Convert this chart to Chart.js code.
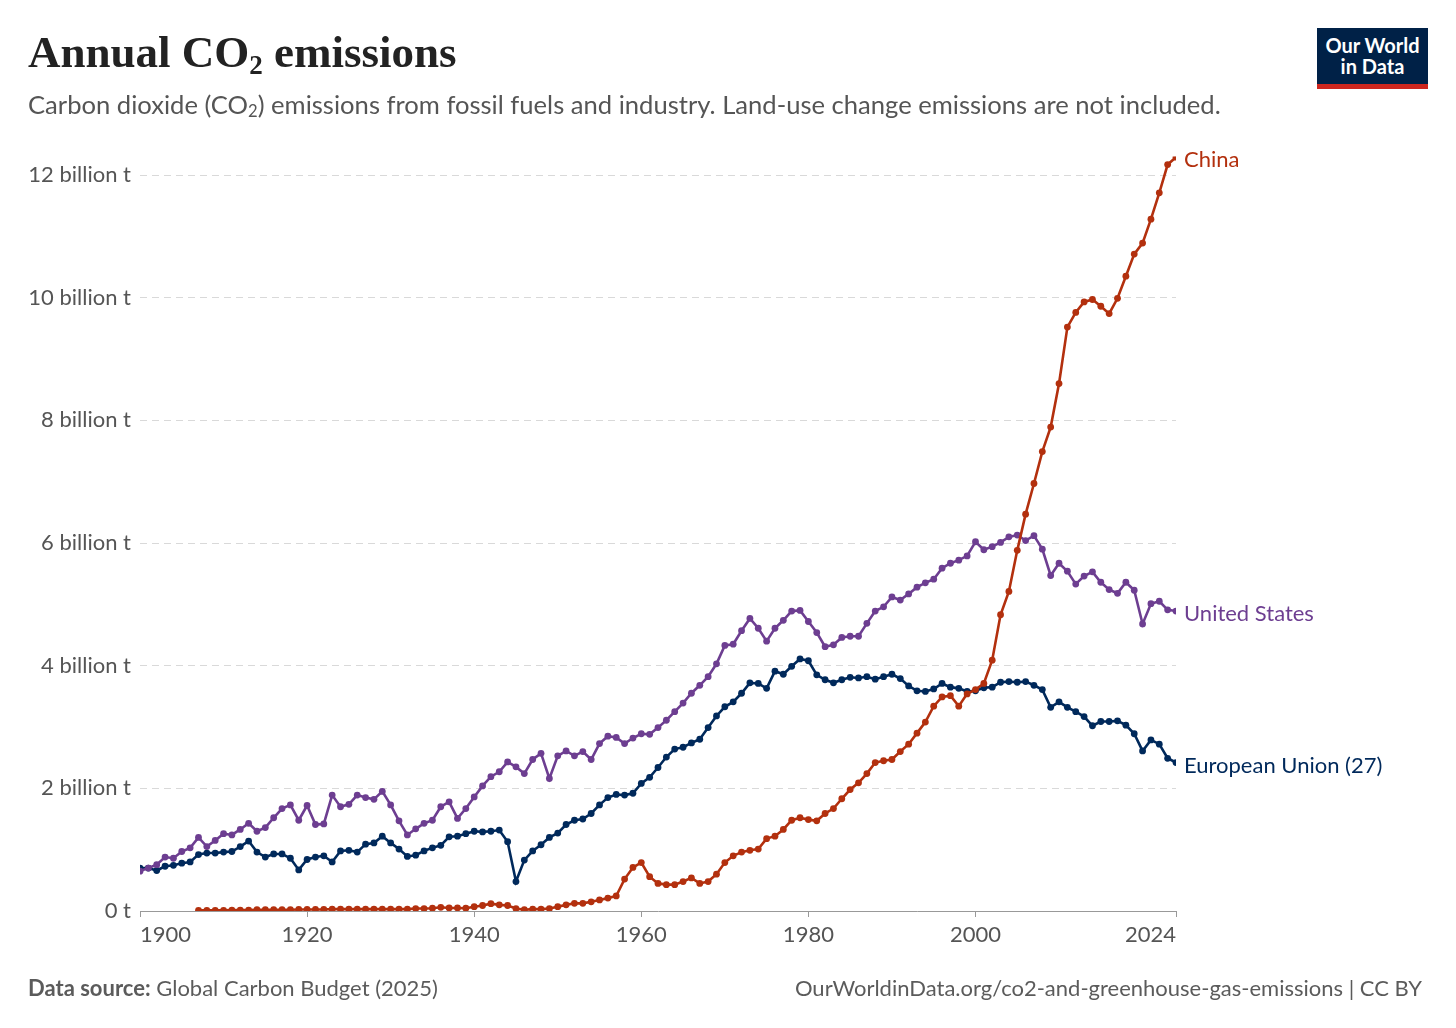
<!DOCTYPE html>
<html>
<head>
<meta charset="utf-8">
<script src="https://cdn.jsdelivr.net/npm/chart.js@4.4.1/dist/chart.umd.min.js"></script>
<style>
  body { margin: 0; background: #fff; width: 1456px; height: 1028px; overflow: hidden; font-family: Lato, sans-serif; }
  #wrap { position: absolute; left: 0; top: 0; width: 1456px; height: 1028px; }
  .txt { position: absolute; white-space: nowrap; }
  #title { left: 28px; top: 26px; font-family: "Liberation Serif", serif; font-weight: bold; font-size: 45px; color: #222; }
  #title sub { font-size: 0.6em; vertical-align: -0.25em; }
  #subtitle { left: 28px; top: 89px; font-size: 25.6px; color: #555; }
  #subtitle sub { font-size: 0.65em; vertical-align: -0.2em; }
  #logo { position: absolute; left: 1317px; top: 28px; width: 111px; background: #002147; border-bottom: 5px solid #ce261e;
          color: #fff; font-weight: bold; font-size: 20px; line-height: 21px; text-align: center; padding-top: 7px; height: 49px; }
  #source { left: 28px; top: 974px; font-size: 22px; color: #5b5b5b; }
  #source b { color: #5b5b5b; }
  #url { right: 34px; top: 974px; font-size: 22px; color: #5b5b5b; }
</style>
</head>
<body>
<div id="wrap"><canvas id="chart"></canvas></div>
<div class="txt" id="title">Annual CO<sub>2</sub> emissions</div>
<div class="txt" id="subtitle">Carbon dioxide (CO<sub>2</sub>) emissions from fossil fuels and industry. Land-use change emissions are not included.</div>
<div id="logo">Our World<br>in Data</div>
<div class="txt" id="source"><b>Data source:</b> Global Carbon Budget (2025)</div>
<div class="txt" id="url">OurWorldinData.org/co2-and-greenhouse-gas-emissions | CC BY</div>
<script>
// billion tonnes CO2 per year
const firstYear = 1900;
const lastYear = 2024;
const chinaFirstYear = 1907;
const xTickYears = [1900, 1920, 1940, 1960, 1980, 2000, 2024];
const yTickValues = [0, 2, 4, 6, 8, 10, 12];

const usValues = [
  0.65, 0.70, 0.755, 0.88, 0.86, 0.97, 1.03, 1.20, 1.05, 1.15,
  1.26, 1.24, 1.33, 1.43, 1.30, 1.36, 1.52, 1.67, 1.73, 1.48,
  1.72, 1.41, 1.42, 1.89, 1.70, 1.74, 1.89, 1.85, 1.82, 1.95,
  1.73, 1.47, 1.24, 1.34, 1.43, 1.48, 1.70, 1.78, 1.51, 1.67,
  1.86, 2.04, 2.19, 2.27, 2.43, 2.35, 2.24, 2.47, 2.57, 2.16,
  2.53, 2.61, 2.53, 2.60, 2.47, 2.73, 2.85, 2.83, 2.73, 2.82,
  2.89, 2.88, 2.99, 3.11, 3.25, 3.39, 3.55, 3.68, 3.82, 4.03,
  4.33, 4.35, 4.57, 4.77, 4.61, 4.40, 4.61, 4.74, 4.89, 4.90,
  4.72, 4.54, 4.31, 4.34, 4.46, 4.48, 4.48, 4.69, 4.89, 4.96,
  5.12, 5.07, 5.17, 5.28, 5.35, 5.41, 5.59, 5.67, 5.72, 5.79,
  6.02, 5.89, 5.94, 6.01, 6.10, 6.13, 6.04, 6.12, 5.90, 5.47,
  5.67, 5.54, 5.33, 5.46, 5.53, 5.36, 5.24, 5.18, 5.36, 5.23,
  4.68, 5.01, 5.05, 4.91, 4.89
];

const euValues = [
  0.70, 0.70, 0.66, 0.73, 0.745, 0.78, 0.80, 0.92, 0.945, 0.945,
  0.96, 0.97, 1.05, 1.14, 0.96, 0.88, 0.93, 0.93, 0.86, 0.67,
  0.84, 0.88, 0.90, 0.80, 0.98, 0.99, 0.96, 1.09, 1.11, 1.22,
  1.11, 1.01, 0.89, 0.91, 0.98, 1.03, 1.07, 1.21, 1.22, 1.26,
  1.30, 1.29, 1.30, 1.32, 1.13, 0.48, 0.83, 0.98, 1.08, 1.20,
  1.27, 1.41, 1.48, 1.50, 1.59, 1.73, 1.85, 1.90, 1.89, 1.92,
  2.08, 2.18, 2.34, 2.51, 2.64, 2.67, 2.74, 2.80, 2.99, 3.18,
  3.33, 3.41, 3.55, 3.72, 3.71, 3.63, 3.91, 3.86, 3.99, 4.11,
  4.08, 3.85, 3.77, 3.72, 3.77, 3.81, 3.80, 3.82, 3.78, 3.82,
  3.86, 3.79, 3.67, 3.59, 3.58, 3.62, 3.71, 3.65, 3.63, 3.58,
  3.59, 3.64, 3.65, 3.73, 3.74, 3.73, 3.74, 3.68, 3.61, 3.32,
  3.41, 3.32, 3.25, 3.17, 3.02, 3.09, 3.09, 3.10, 3.03, 2.89,
  2.61, 2.79, 2.72, 2.49, 2.42
];

const chinaValues = [
  0.01, 0.01, 0.01,
  0.01, 0.015, 0.015, 0.015, 0.02, 0.02, 0.02, 0.02, 0.02, 0.025,
  0.025, 0.025, 0.025, 0.03, 0.03, 0.03, 0.03, 0.03, 0.03, 0.03,
  0.03, 0.03, 0.03, 0.04, 0.04, 0.045, 0.06, 0.05, 0.05, 0.045,
  0.07, 0.09, 0.12, 0.10, 0.09, 0.04, 0.02, 0.03, 0.03, 0.04,
  0.07, 0.10, 0.125, 0.125, 0.15, 0.18, 0.21, 0.245, 0.52, 0.71,
  0.79, 0.56, 0.45, 0.43, 0.43, 0.48, 0.54, 0.45, 0.48, 0.60,
  0.79, 0.90, 0.96, 0.99, 1.01, 1.18, 1.22, 1.33, 1.48, 1.52,
  1.49, 1.47, 1.59, 1.67, 1.83, 1.98, 2.09, 2.24, 2.42, 2.45,
  2.47, 2.60, 2.72, 2.90, 3.08, 3.34, 3.49, 3.51, 3.34, 3.54,
  3.61, 3.71, 4.09, 4.83, 5.21, 5.88, 6.47, 6.97, 7.49, 7.89,
  8.60, 9.52, 9.76, 9.93, 9.97, 9.86, 9.74, 9.99, 10.35, 10.71,
  10.89, 11.28, 11.71, 12.17, 12.29
];

const seriesNames = ['China', 'United States', 'European Union (27)'];
const seriesColors = ['#b3300e', '#6d3e91', '#00295b'];

const toPoints = (start, values) => values.map((v, i) => ({ x: start + i, y: v }));

const lineDataset = (label, color, points) => ({
  label,
  data: points,
  borderColor: color,
  backgroundColor: color,
  borderWidth: 2.6,
  pointRadius: 3.4,
  pointBorderWidth: 0,
  pointHoverRadius: 3.4,
  tension: 0
});

// names at the end of each line
const endLabels = {
  id: 'endLabels',
  afterDatasetsDraw(chart) {
    const ctx = chart.ctx;
    ctx.save();
    ctx.font = '22px Lato';
    ctx.textBaseline = 'middle';
    ctx.textAlign = 'left';
    chart.data.datasets.forEach((ds, i) => {
      const pts = chart.getDatasetMeta(i).data;
      const last = pts[pts.length - 1];
      ctx.fillStyle = ds.borderColor;
      ctx.fillText(ds.label, last.x + 8, last.y + 3);
    });
    ctx.restore();
  }
};

new Chart(document.getElementById('chart'), {
  type: 'line',
  data: {
    datasets: [
      lineDataset(seriesNames[0], seriesColors[0], toPoints(chinaFirstYear, chinaValues)),
      lineDataset(seriesNames[1], seriesColors[1], toPoints(firstYear, usValues)),
      lineDataset(seriesNames[2], seriesColors[2], toPoints(firstYear, euValues))
    ]
  },
  options: {
    responsive: true,
    maintainAspectRatio: false,
    animation: false,
    layout: { padding: { left: 0, right: 280, top: 156.6, bottom: 77 } },
    plugins: { legend: { display: false }, tooltip: { enabled: false } },
    scales: {
      x: {
        type: 'linear',
        min: firstYear,
        max: lastYear,
        afterBuildTicks: (scale) => { scale.ticks = xTickYears.map(v => ({ value: v })); },
        afterFit: (scale) => { scale.height = 40; },
        grid: { display: true, drawOnChartArea: false, drawTicks: true, tickLength: 6, color: '#999', tickColor: '#999' },
        border: { display: true, color: '#999', width: 1 },
        ticks: {
          align: 'inner',
          padding: 5,
          maxRotation: 0,
          autoSkip: false,
          color: '#555',
          font: { family: 'Lato', size: 22 },
          callback: (v) => String(v)
        }
      },
      y: {
        min: 0,
        max: 12.3,
        afterBuildTicks: (scale) => { scale.ticks = yTickValues.map(v => ({ value: v })); },
        afterFit: (scale) => { scale.width = 140; },
        grid: {
          drawTicks: false,
          color: (c) => c.tick && c.tick.value === 0 ? 'rgba(0,0,0,0)' : '#d9d9d9',
          lineWidth: 1
        },
        border: { display: false, dash: [7, 5] },
        ticks: {
          padding: 9,
          color: '#555',
          font: { family: 'Lato', size: 22 },
          callback: (v) => v === 0 ? '0 t' : v + ' billion t'
        }
      }
    }
  },
  plugins: [endLabels]
});
</script>
</body>
</html>
